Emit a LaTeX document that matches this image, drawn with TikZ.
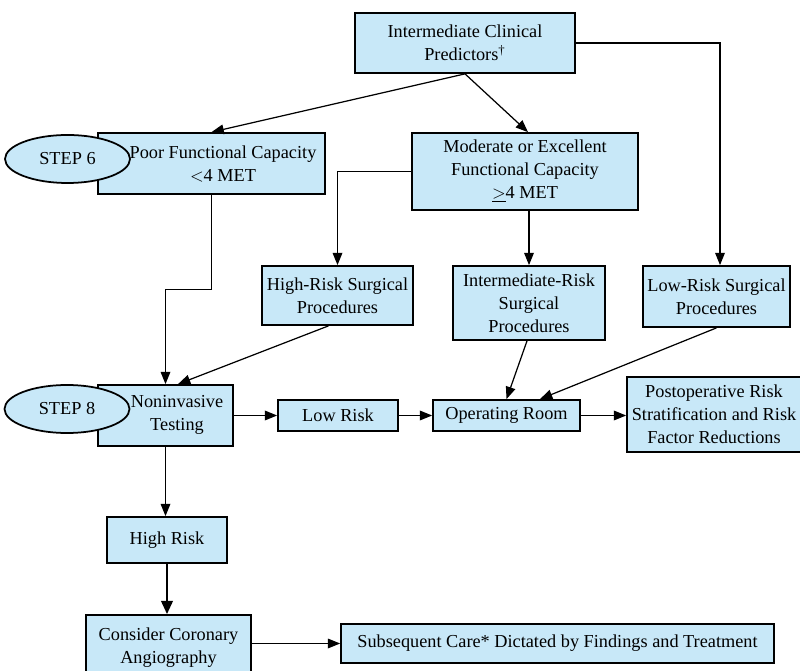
\documentclass[tikz,border=0pt]{standalone}
\usepackage{fontspec}
\setmainfont{Liberation Serif}
\usetikzlibrary{positioning,shapes.geometric,arrows.meta}

\definecolor{boxblue}{RGB}{200,232,248}

\begin{document}
\begin{tikzpicture}[
    x=0.02cm, y=-0.02cm,
    box/.style={draw=black, line width=1pt, fill=boxblue, align=center,
        font=\fontsize{10.4}{13}\selectfont, inner sep=1pt},
    plain/.style={align=center, font=\fontsize{10.4}{13}\selectfont, inner sep=1pt},
    stepmark/.style={ellipse, draw=black, line width=1pt, fill=boxblue,
        minimum width=2.5cm, minimum height=0.96cm, inner sep=0pt,
        font=\fontsize{10.4}{13}\selectfont},
    arr/.style={-{Triangle[length=7pt,width=5.5pt]}, line width=0.7pt},
    bigarr/.style={-{Triangle[length=7.5pt,width=6.5pt]}, line width=1.4pt}
]
\useasboundingbox (0,0) rectangle (800,671);

% Top: clinical predictors and functional capacity
\node[box, minimum width=4.4cm, minimum height=1.2cm] (icp) at (465,43)
    {Intermediate Clinical\\Predictors\textsuperscript{†}};
\node[box, minimum width=4.54cm, minimum height=1.22cm] (poor) at (211.5,163.5) {};
\node[plain] (poortxt) at (223,164) {Poor Functional Capacity\\$<$4 MET};
\node[stepmark] (step6) at (67.5,159) {STEP 6};
\node[box, minimum width=4.52cm, minimum height=1.54cm] (mod) at (525,171.5)
    {Moderate or Excellent\\Functional Capacity\\\underline{$>$}4 MET};

% Row: surgical procedures
\node[box, minimum width=3.02cm, minimum height=1.18cm] (highsurg) at (337.5,295.5)
    {High-Risk Surgical\\Procedures};
\node[box, minimum width=3.04cm, minimum height=1.48cm] (intsurg) at (529,303)
    {Intermediate-Risk\\Surgical\\Procedures};
\node[box, minimum width=2.94cm, minimum height=1.22cm] (lowsurg) at (716.5,296.5)
    {Low-Risk Surgical\\Procedures};

% Row: testing and operating room
\node[box, minimum width=2.7cm, minimum height=1.22cm] (nonin) at (165.5,415.5) {};
\node[plain] (nonintxt) at (177,415) {Noninvasive\\Testing};
\node[stepmark] (step8) at (67,409) {STEP 8};
\node[box, minimum width=2.4cm, minimum height=0.62cm] (lowrisk) at (338,415.5) {Low Risk};
\node[box, minimum width=2.94cm, minimum height=0.62cm] (oproom) at (506.5,415.5) {Operating Room};
\node[box, minimum width=3.48cm, minimum height=1.5cm] (postop) at (714,414.5)
    {Postoperative Risk\\Stratification and Risk\\Factor Reductions};

% Bottom: high risk branch
\node[box, minimum width=2.4cm, minimum height=0.92cm] (highrisk) at (167,540) {High Risk};
\node[box, minimum width=3.3cm, minimum height=1.3cm] (consider) at (168.5,647.5)
    {Consider Coronary\\Angiography};
\node[box, minimum width=8.66cm, minimum height=0.78cm] (subseq) at (557.5,643.5)
    {Subsequent Care* Dictated by Findings and Treatment};

% Connectors
\draw[arr] (icp.south) -- (poor.north);
\draw[arr] (icp.south) -- ([xshift=0.06cm]mod.north);
\draw[arr] (icp.east) -| ([xshift=0.07cm]lowsurg.north);
\draw[arr] (mod.west) -| (highsurg.north);
\draw[arr] (intsurg.north |- mod.south) -- (intsurg.north);
\draw[arr] (poor.south) -- ++(0,95) -| (nonin.north);
\draw[arr] ([xshift=-0.18cm]highsurg.south) -- ([xshift=0.25cm]nonin.north);
\draw[arr] ([xshift=-0.04cm]intsurg.south) -- (oproom.north);
\draw[arr] (lowsurg.south) -- ([xshift=0.67cm]oproom.north);
\draw[arr] (nonin.east |- lowrisk.west) -- (lowrisk.west);
\draw[arr] (lowrisk.east) -- (oproom.west);
\draw[arr] (oproom.east) -- (postop.west |- oproom.east);
\draw[arr] (nonin.south) -- (nonin.south |- highrisk.north);
\draw[bigarr] (highrisk.south) -- (highrisk.south |- consider.north);
\draw[arr] (consider.east |- subseq.west) -- (subseq.west);

\end{tikzpicture}
\end{document}
